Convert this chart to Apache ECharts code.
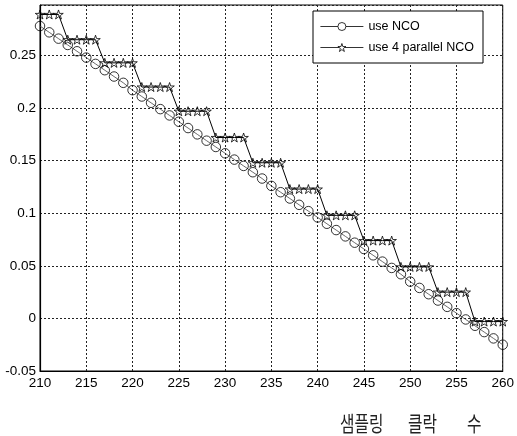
<!DOCTYPE html>
<html><head><meta charset="utf-8">
<script src="https://cdn.jsdelivr.net/npm/echarts@6/dist/echarts.min.js"></script>
<style>html,body{margin:0;padding:0;background:#fff}#c{width:517px;height:436px}</style>
</head><body><div id="c"></div>
<script>
// Sampling clock index
const samples = [210,211,212,213,214,215,216,217,218,219,220,221,222,223,224,225,226,227,228,229,230,
  231,232,233,234,235,236,237,238,239,240,241,242,243,244,245,246,247,248,249,250,
  251,252,253,254,255,256,257,258,259,260];
// "use NCO"
const ncoValues = [0.278,0.272,0.266,0.260,0.254,0.248,0.242,0.236,0.230,0.224,0.217,
  0.211,0.205,0.199,0.193,0.187,0.181,0.175,0.169,0.163,0.157,
  0.151,0.145,0.139,0.133,0.126,0.120,0.114,0.108,0.102,0.096,
  0.090,0.084,0.078,0.072,0.066,0.060,0.054,0.048,0.042,0.035,
  0.029,0.023,0.017,0.011,0.005,-0.001,-0.007,-0.013,-0.019,-0.025];
// "use 4 parallel NCO"
const parallelNcoValues = [0.289,0.289,0.289,
  0.265,0.265,0.265,0.265,
  0.243,0.243,0.243,0.243,
  0.220,0.220,0.220,0.220,
  0.197,0.197,0.197,0.197,
  0.172,0.172,0.172,0.172,
  0.148,0.148,0.148,0.148,
  0.123,0.123,0.123,0.123,
  0.098,0.098,0.098,0.098,
  0.074,0.074,0.074,0.074,
  0.049,0.049,0.049,0.049,
  0.025,0.025,0.025,0.025,
  -0.003,-0.003,-0.003,-0.003];
const seriesNames = ['use NCO', 'use 4 parallel NCO'];
const xAxisTitleWords = ['샘플링', '클락', '수'];
const xRange = {min: 210, max: 260, interval: 5};
const yRange = {min: -0.05, max: 0.298, interval: 0.05};

const starPath = 'path://M100,0L122.45,69.1L195.1,69.1L136.3,111.8L158.8,180.9L100,138.2L41.2,180.9L63.7,111.8L4.9,69.1L77.55,69.1Z';
const zip = (xs, ys) => xs.map((x, i) => [x, ys[i]]);
const font = "'Liberation Sans', Arial, sans-serif";
const chart = echarts.init(document.getElementById('c'), null, {renderer: 'canvas'});
const gridLine = {show: true, lineStyle: {color: '#222', width: 1, type: [2, 2]}};
const hollow = {color: '#fff', borderColor: '#000', borderWidth: 0.8};
const titleFont = "21px 'Noto Sans CJK KR'";

chart.setOption({
  backgroundColor: '#fff',
  animation: false,
  grid: {left: 40, top: 5, width: 464, height: 366, show: true, borderColor: '#000', borderWidth: 1, backgroundColor: 'transparent'},
  xAxis: {
    type: 'value', min: xRange.min, max: xRange.max, interval: xRange.interval,
    axisLine: {onZero: false, lineStyle: {color: '#000', width: 1.2}},
    axisTick: {show: false},
    axisLabel: {color: '#000', fontFamily: font, fontSize: 13.5, margin: 5},
    splitLine: gridLine
  },
  yAxis: {
    type: 'value', min: yRange.min, max: yRange.max, interval: yRange.interval,
    axisLine: {show: true, onZero: false, lineStyle: {color: '#000', width: 1.2}},
    axisTick: {show: false},
    axisLabel: {color: '#000', fontFamily: font, fontSize: 13.5, margin: 4, showMaxLabel: false},
    splitLine: gridLine
  },
  legend: {
    orient: 'vertical', left: 313, top: 11,
    padding: [9, 9, 9, 7], itemGap: 8, itemWidth: 43, itemHeight: 10,
    backgroundColor: '#fff', borderColor: '#000', borderWidth: 1,
    textStyle: {color: '#000', fontFamily: font, fontSize: 12.5},
    itemStyle: hollow,
    lineStyle: {width: 0.8, color: '#000'},
    data: seriesNames
  },
  graphic: [
    {type: 'text', x: 340, y: 423, scaleX: 0.75, style: {text: xAxisTitleWords[0], fill: '#222', font: titleFont, verticalAlign: 'middle'}},
    {type: 'text', x: 408, y: 423, scaleX: 0.75, style: {text: xAxisTitleWords[1], fill: '#222', font: titleFont, verticalAlign: 'middle'}},
    {type: 'text', x: 467, y: 423, scaleX: 0.75, style: {text: xAxisTitleWords[2], fill: '#222', font: titleFont, verticalAlign: 'middle'}}
  ],
  series: [
    {
      name: seriesNames[0], type: 'line', data: zip(samples, ncoValues),
      symbol: 'circle', symbolSize: 9.5, showAllSymbol: true, clip: false,
      itemStyle: {color: 'rgba(0,0,0,0)', borderColor: '#000', borderWidth: 0.8},
      lineStyle: {color: '#444', width: 0.8},
      emphasis: {disabled: true}, z: 3
    },
    {
      name: seriesNames[1], type: 'line', data: zip(samples, parallelNcoValues),
      symbol: starPath, symbolKeepAspect: true, symbolSize: 9.5, showAllSymbol: true, clip: false,
      itemStyle: {color: 'rgba(0,0,0,0)', borderColor: '#000', borderWidth: 0.8},
      lineStyle: {color: '#000', width: 1},
      emphasis: {disabled: true}, z: 4
    }
  ]
});
</script></body></html>
